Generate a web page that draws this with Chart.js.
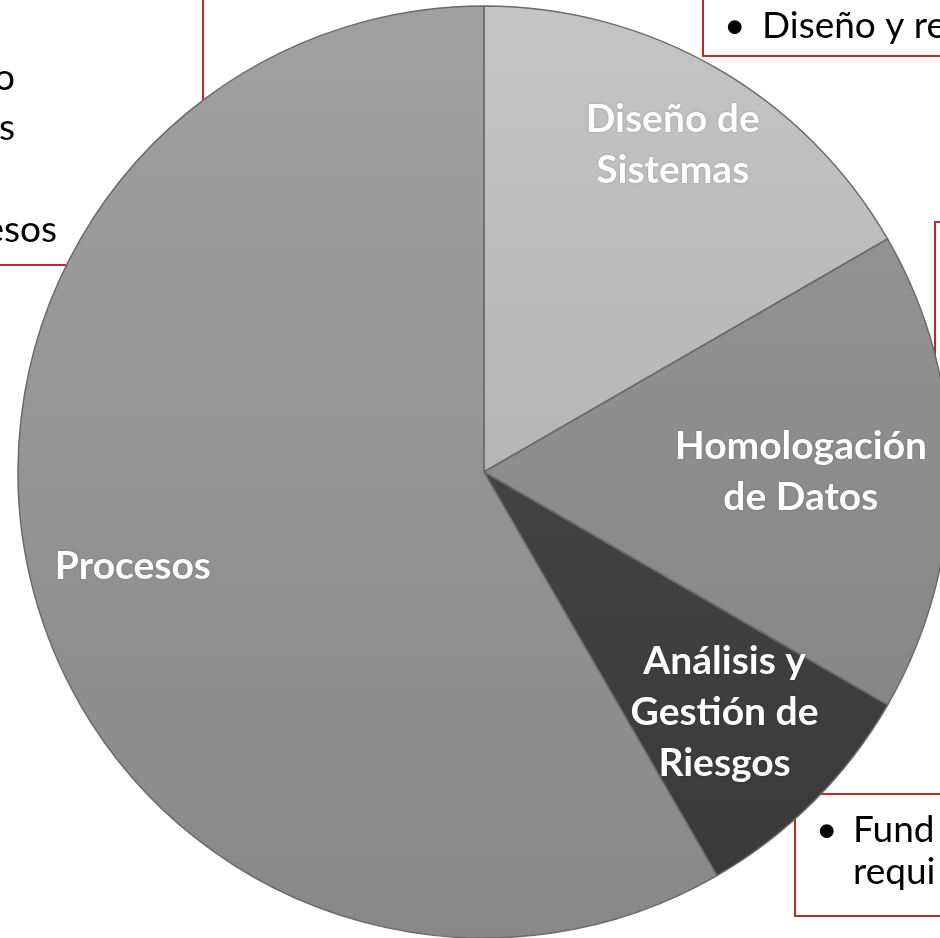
<!DOCTYPE html>
<html>
<head>
<meta charset="utf-8">
<script src="https://cdn.jsdelivr.net/npm/chart.js@4.4.1/dist/chart.umd.min.js"></script>
<style>
html,body{margin:0;padding:0;background:#fff;overflow:hidden;}
#wrap{position:absolute;left:0;top:0;width:940px;height:938px;}
</style>
</head>
<body>
<div id="wrap"><canvas id="c" width="940" height="938"></canvas></div>
<script>
const categories = ["Diseño de Sistemas", "Homologación de Datos", "Análisis y Gestión de Riesgos", "Procesos"];
const labelLines = [["Diseño de", "Sistemas"], ["Homologación", "de Datos"], ["Análisis y", "Gestión de", "Riesgos"], ["Procesos"]];
const values = [2, 2, 1, 7];
const sliceTop = ["#c4c4c4", "#979797", "#4e4e4e", "#a0a0a0"];
const sliceBottom = ["#a8a8a8", "#828282", "#383838", "#888888"];
const labelRadius = [0.81, 0.68, 0.73, 0.78];

const RED = "#c0282a";
const boxesPlugin = {
  id: "boxes",
  beforeDatasetsDraw(chart) {
    const ctx = chart.ctx;
    ctx.save();
    ctx.strokeStyle = RED;
    ctx.lineWidth = 2;
    ctx.beginPath();
    ctx.moveTo(203, -5); ctx.lineTo(203, 265); ctx.lineTo(-5, 265);
    ctx.stroke();
    ctx.beginPath();
    ctx.moveTo(703, -5); ctx.lineTo(703, 56); ctx.lineTo(945, 56);
    ctx.stroke();
    ctx.beginPath();
    ctx.moveTo(945, 222); ctx.lineTo(935, 222); ctx.lineTo(935, 480);
    ctx.stroke();
    ctx.beginPath();
    ctx.moveTo(945, 794); ctx.lineTo(795, 794); ctx.lineTo(795, 916); ctx.lineTo(945, 916);
    ctx.stroke();

    ctx.fillStyle = "#000";
    ctx.font = "37px Lato";
    ctx.textBaseline = "middle";
    ctx.textAlign = "right";
    ctx.fillText("o", 15, 78);
    ctx.fillText("s", 15, 128);
    ctx.fillText("esos", 57, 230);
    ctx.textAlign = "left";
    ctx.fillText("•", 724, 26);
    ctx.fillText("Diseño y re", 762, 26);
    ctx.fillText("•", 816, 830);
    ctx.fillText("Fund", 853, 830);
    ctx.fillText("requi", 853, 872);
    ctx.restore();
  }
};

const labelsPlugin = {
  id: "sliceLabels",
  afterDatasetsDraw(chart) {
    const ctx = chart.ctx;
    const meta = chart.getDatasetMeta(0);
    ctx.save();
    ctx.fillStyle = "#ffffff";
    ctx.font = "bold 39px Lato";
    ctx.textAlign = "center";
    ctx.textBaseline = "middle";
    ctx.shadowColor = "rgba(0,0,0,0.25)";
    ctx.shadowBlur = 2;
    meta.data.forEach((arc, i) => {
      const p = arc.getProps(["x", "y", "startAngle", "endAngle", "outerRadius"], true);
      const mid = (p.startAngle + p.endAngle) / 2;
      const r = p.outerRadius * labelRadius[i];
      const cx = p.x + Math.cos(mid) * r;
      const cy = p.y + Math.sin(mid) * r;
      const lines = labelLines[i];
      const lh = 51;
      lines.forEach((t, j) => {
        ctx.fillText(t, cx, cy + (j - (lines.length - 1) / 2) * lh);
      });
    });
    ctx.restore();
  }
};

function sliceFill(context) {
  const chart = context.chart;
  const i = context.dataIndex;
  if (!chart.chartArea) return sliceTop[i];
  const g = chart.ctx.createLinearGradient(0, 6, 0, 938);
  g.addColorStop(0, sliceTop[i]);
  g.addColorStop(1, sliceBottom[i]);
  return g;
}

new Chart(document.getElementById("c"), {
  type: "pie",
  data: {
    labels: categories,
    datasets: [{
      data: values,
      backgroundColor: sliceFill,
      borderColor: "#6a6a6a",
      borderWidth: 1.5
    }]
  },
  options: {
    responsive: false,
    devicePixelRatio: 1,
    animation: false,
    radius: 466,
    layout: {padding: {left: 28, right: 0, top: 6, bottom: 0}},
    plugins: {legend: {display: false}, tooltip: {enabled: false}}
  },
  plugins: [boxesPlugin, labelsPlugin]
});
</script>
</body>
</html>
